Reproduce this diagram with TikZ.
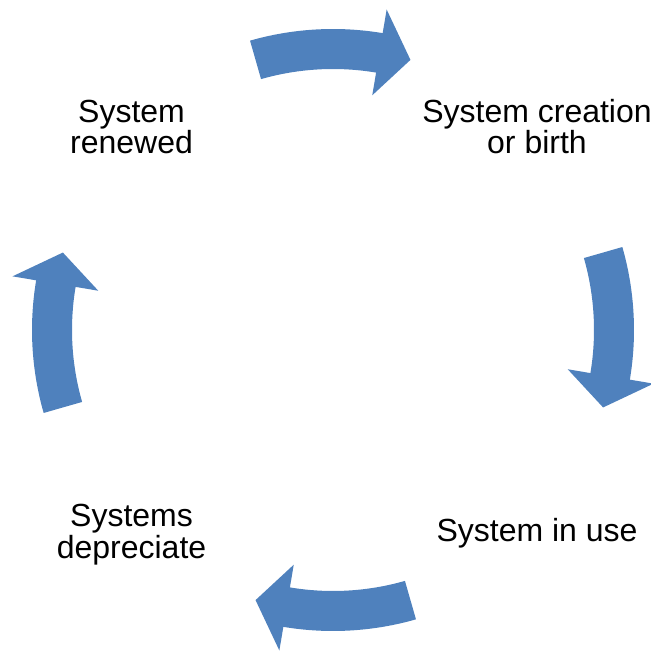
\documentclass[tikz,border=0pt]{standalone}
\usepackage{fontspec}
\setmainfont{Liberation Sans}
\definecolor{cycleblue}{RGB}{79,129,189}
\begin{document}
\begin{tikzpicture}[x=1pt,y=1pt,
    stage/.style={align=center,inner sep=0pt,anchor=base,font=\fontsize{32}{31.4}\selectfont}]
        \useasboundingbox (0,0) rectangle (651,651);

        \foreach \a in {90,0,270,180}
            \fill[cycleblue,shift={(333,321)}] (\a+16:301) arc[start angle=\a+16,end angle=\a-9.5,radius=301]
                -- (\a-9.5:325) -- (\a-16:281) -- (\a-9.5:238) -- (\a-9.5:261)
                arc[start angle=\a-9.5,end angle=\a+16,radius=261] -- cycle;

        \node[stage] (renewed) at (131.5,497) {System\\renewed};
        \node[stage] (birth) at (537,497) {System creation\\or birth};
        \node[stage] (inuse) at (537,109.3) {System in use};
        \node[stage] (depreciate) at (131.5,92.7) {Systems\\depreciate};
    \end{tikzpicture}
\end{document}
